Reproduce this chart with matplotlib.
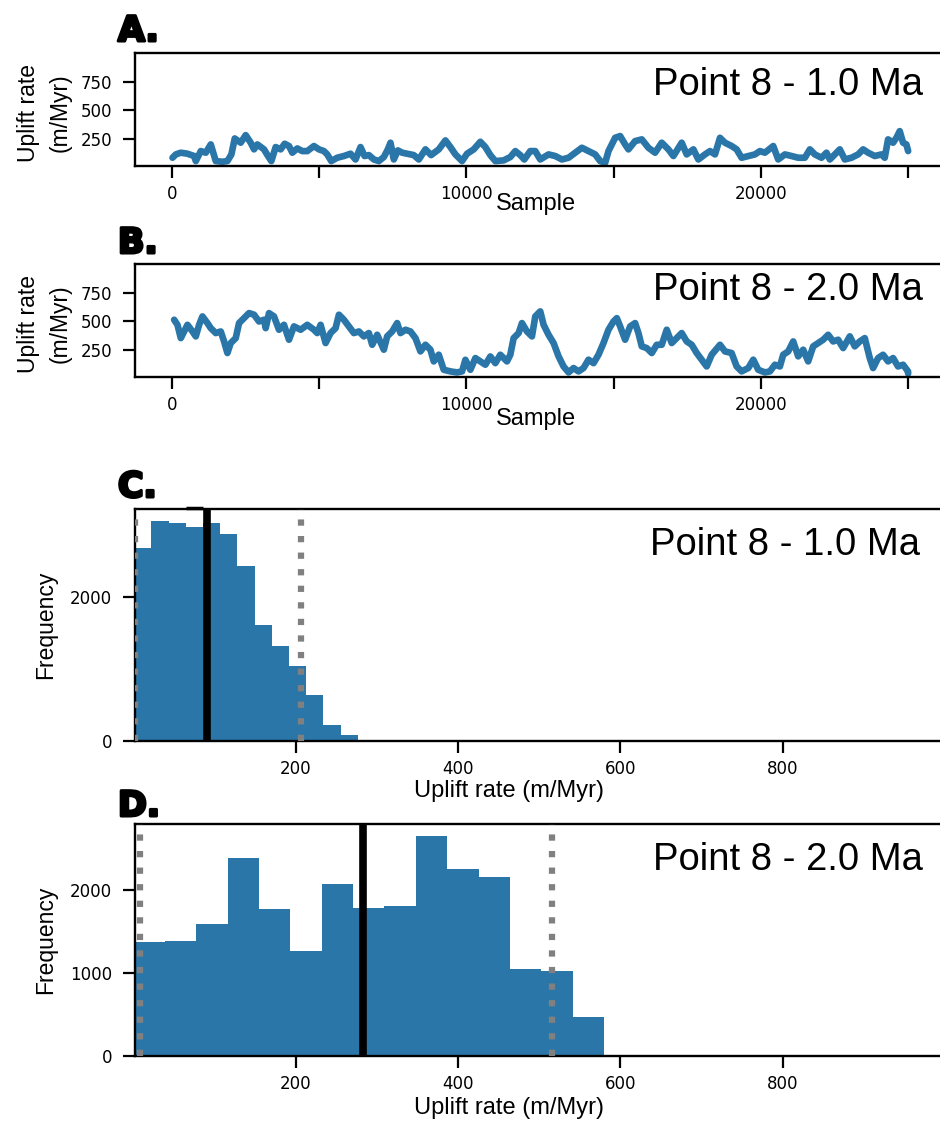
import numpy as np
import matplotlib
matplotlib.use('Agg')
import matplotlib.pyplot as plt
import matplotlib.patheffects as pe

# MCMC trace, point 8 at 1.0 Ma (sample index, uplift rate in m/Myr)
trace_a_sample = [23, 136, 305, 531, 757, 814, 983, 1153, 1322, 1492, 1717, 1887, 2023, 2136,
                  2339, 2508, 2678, 2791, 2904, 3130, 3266, 3379, 3526, 3695, 3831, 3978, 4091,
                  4260, 4430, 4599, 4825, 4995, 5164, 5277, 5413, 5616, 5842, 6068, 6238, 6407,
                  6543, 6690, 6859, 7029, 7198, 7334, 7424, 7537, 7673, 7820, 7989, 8215, 8385,
                  8611, 8803, 9063, 9289, 9458, 9628, 9854, 10023, 10249, 10475, 10645, 10814,
                  10984, 11266, 11492, 11662, 11831, 11967, 12170,
                  12339, 12509, 12791, 13017, 13243, 13469, 13695, 13921, 14147, 14373, 14543,
                  14712, 14825, 15051, 15221, 15390, 15503, 15729, 15955, 16181, 16407, 16633,
                  16859, 17029, 17311, 17481, 17707, 17876, 18102, 18272, 18441, 18611, 18780,
                  19006, 19176, 19345, 19571, 19797, 19967, 20136, 20419, 20588, 20814, 21040,
                  21266, 21492, 21662, 21831, 22057, 22227, 22340, 22509, 22679, 22848, 23074,
                  23300, 23470, 23639, 23865, 24091, 24204, 24317, 24487, 24600, 24713, 24826,
                  24939, 24999]
trace_a_rate = [87, 116, 131, 122, 102, 58, 145, 131, 203, 58, 52, 58, 116, 255,
                218, 284, 218, 160, 203, 160, 102, 58, 180, 160, 209, 189, 131,
                168, 145, 145, 189, 160, 145, 116, 58, 87, 102, 122, 72, 180,
                102, 110, 72, 58, 93, 160, 218, 72, 151, 131, 122, 110, 72,
                160, 110, 160, 238, 180, 116, 58, 122, 160, 226, 180, 110,
                58, 64, 93, 145, 110, 72, 145,
                145, 72, 116, 102, 72, 87, 131, 174, 145, 116, 58,
                43, 145, 261, 276, 203, 160, 232, 247, 174, 131, 218,
                160, 102, 218, 116, 160, 72, 116, 145, 116, 261, 218,
                189, 160, 87, 102, 116, 145, 131, 189, 72, 116, 102,
                87, 87, 160, 116, 87, 131, 72, 116, 160, 72, 87,
                116, 160, 131, 102, 116, 87, 247, 218, 261, 319, 218,
                203, 145]

# MCMC trace, point 8 at 2.0 Ma
trace_b_sample = [79, 192, 305, 418, 531, 701, 814, 927, 1040, 1209, 1322, 1492, 1661, 1774,
                  1887, 2000, 2170, 2283, 2452, 2622, 2791, 2961, 3130, 3187, 3300, 3469, 3639,
                  3808, 3978, 4147, 4373, 4599, 4825, 4938, 5051, 5221, 5390, 5560, 5673, 5842,
                  6012, 6181, 6351, 6520, 6690, 6803, 6972, 7198, 7311, 7481, 7650, 7763, 7933,
                  8102, 8272, 8441, 8611, 8780, 8893, 9063, 9232, 9458, 9684, 9854, 9967, 10136,
                  10306, 10475, 10645, 10814, 10984, 11153, 11379, 11492, 11605, 11775, 11888,
                  12057, 12227,
                  12339, 12509, 12622, 12791, 12961, 13130, 13300, 13469, 13639, 13808, 13978,
                  14147, 14317, 14486, 14656, 14825, 14995, 15108, 15221, 15390, 15560, 15729,
                  15842, 15955, 16125, 16294, 16464, 16633, 16803, 16972, 17142, 17311, 17481,
                  17650, 17820, 17989, 18159, 18328, 18611, 18780, 19006, 19176, 19345, 19571,
                  19741, 19910, 20136, 20306, 20475, 20644, 20757, 20927, 21097, 21266, 21436,
                  21605, 21775, 21944, 22114, 22283, 22453, 22622, 22792, 23018, 23187, 23357,
                  23526, 23696, 23809, 23978, 24148, 24317, 24487, 24656, 24826, 24995, 24999]
trace_b_rate = [514, 470, 354, 412, 470, 412, 369, 470, 543, 485, 441, 398, 412, 325,
                224, 311, 354, 485, 528, 572, 558, 499, 514, 441, 572, 543, 427,
                470, 340, 456, 427, 470, 427, 398, 470, 311, 398, 441, 558, 514,
                456, 398, 412, 369, 398, 296, 383, 253, 369, 412, 485, 398, 427,
                412, 354, 238, 296, 253, 151, 209, 78, 64, 55, 64, 165, 78,
                180, 151, 122, 194, 136, 209, 151, 209, 354, 398, 485,
                412, 369,
                543, 587, 470, 383, 311, 195, 107, 55, 93, 64, 93,
                166, 136, 209, 311, 427, 499, 528, 456, 340, 456, 485,
                398, 282, 267, 224, 296, 296, 427, 311, 354, 398, 325,
                296, 224, 166, 107, 209, 296, 238, 224, 107, 64, 93,
                166, 78, 55, 64, 122, 107, 209, 238, 325, 195, 253,
                151, 282, 311, 340, 383, 325, 340, 267, 369, 282, 325,
                354, 180, 93, 180, 209, 151, 180, 107, 122, 64, 45]

# histograms of the traces
hist_c_edges = [2.0, 22.1, 43.5, 64.4, 85.8, 106.3, 128.1, 149.4, 170.4, 191.7,
                212.7, 234.1, 255.4, 276.7, 298.0]
hist_c_counts = [2681, 3051, 3028, 2968, 3028, 2866, 2422, 1607, 1311, 1042, 644, 218, 89, 19]
hist_c_median = 90.3
hist_c_bounds = [2.4, 207.0]

hist_d_edges = [2.0, 38.5, 77.6, 116.1, 154.7, 193.4, 232.0, 270.5, 309.2, 347.8,
                386.4, 425.4, 463.6, 502.2, 541.2, 579.8]
hist_d_counts = [1373, 1382, 1587, 2386, 1764, 1265, 2072, 1776, 1804, 2651, 2246, 2149,
                 1045, 1020, 475]
hist_d_median = 282.5
hist_d_bounds = [7.8, 515.8]

BLUE = '#2b76a9'
W, H = 940, 1126

plt.rcParams['font.family'] = ['Liberation Sans', 'DejaVu Sans']
fig = plt.figure(figsize=(W / 100, H / 100), dpi=100)


def px_axes(top, bottom, left=135, right=945):
    return fig.add_axes([left / W, 1 - bottom / H, (right - left) / W, (bottom - top) / H])


def style_axes(ax):
    for side in ['left', 'top', 'bottom', 'right']:
        ax.spines[side].set_linewidth(1.7)
    ax.tick_params(axis='both', length=8.5, width=1.6, labelsize=12,
                   labelfontfamily='DejaVu Sans')
    ax.tick_params(axis='x', pad=5)
    ax.tick_params(axis='y', pad=8)


def trace_panel(ax, samples, rates, xlabel_y):
    ax.plot(samples, rates, color=BLUE, lw=4.8, solid_joinstyle='round', solid_capstyle='round')
    ax.set_xlim(-1250, 26250)
    ax.set_ylim(15, 1000)
    ax.set_yticks([250, 500, 750])
    ax.set_xticks([0, 5000, 10000, 15000, 20000, 25000])
    ax.set_xticklabels(['0', '', '10000', '', '20000', ''])
    ax.set_ylabel('Uplift rate\n(m/Myr)', fontsize=16.5, linespacing=1.5)
    ax.yaxis.set_label_coords(-0.078, 0.47)
    ax.set_xlabel('Sample', fontsize=17)
    ax.xaxis.set_label_coords(0.4945, xlabel_y)
    style_axes(ax)


def hist_panel(ax, edges, counts, median, bounds, yticks, ytop):
    ax.stairs(counts, edges, fill=True, color=BLUE)
    for b in bounds:
        ax.axvline(b, color='grey', lw=4.5, linestyle=':', zorder=3)
    ax.axvline(median, color='black', lw=5.5, zorder=4)
    ax.set_xlim(2, 1000)
    ax.set_ylim(0, ytop)
    ax.set_xticks([200, 400, 600, 800])
    ax.set_yticks(yticks)
    ax.set_ylabel('Frequency', fontsize=16.5)
    ax.yaxis.set_label_coords(-0.096, 0.5)
    ax.set_xlabel('Uplift rate (m/Myr)', fontsize=17)
    style_axes(ax)


ax_a = px_axes(53, 166)
trace_panel(ax_a, trace_a_sample, trace_a_rate, -0.235)
fig.text(923 / W, 1 - 95 / H, 'Point 8 - 1.0 Ma', fontsize=27.5, ha='right', va='baseline')

ax_b = px_axes(264, 377)
trace_panel(ax_b, trace_b_sample, trace_b_rate, -0.27)
fig.text(923 / W, 1 - 300 / H, 'Point 8 - 2.0 Ma', fontsize=27.5, ha='right', va='baseline')

ax_c = px_axes(509, 741)
hist_panel(ax_c, hist_c_edges, hist_c_counts, hist_c_median, hist_c_bounds, [0, 2000], 3218)
ax_c.xaxis.set_label_coords(0.462, -0.17)
ax_c.plot([hist_c_edges[3], hist_c_edges[4]], [3232, 3232], color='black',
          lw=2.5, clip_on=False, solid_capstyle='butt')
fig.text(920 / W, 1 - 555 / H, 'Point 8 - 1.0 Ma', fontsize=27.5, ha='right', va='baseline')

ax_d = px_axes(824, 1056)
hist_panel(ax_d, hist_d_edges, hist_d_counts, hist_d_median, hist_d_bounds, [0, 1000, 2000], 2792)
ax_d.xaxis.set_label_coords(0.462, -0.178)
fig.text(923 / W, 1 - 870 / H, 'Point 8 - 2.0 Ma', fontsize=27.5, ha='right', va='baseline')

# panel letters, heavy weight
for letter, base in zip(['A.', 'B.', 'C.', 'D.'], [41, 253, 497, 816]):
    fig.text(118 / W, 1 - base / H, letter, fontsize=25, fontfamily='DejaVu Sans',
             fontweight='bold', ha='left', va='baseline',
             path_effects=[pe.withStroke(linewidth=2.2, foreground='black')])

fig.savefig('out.png', dpi=100)
